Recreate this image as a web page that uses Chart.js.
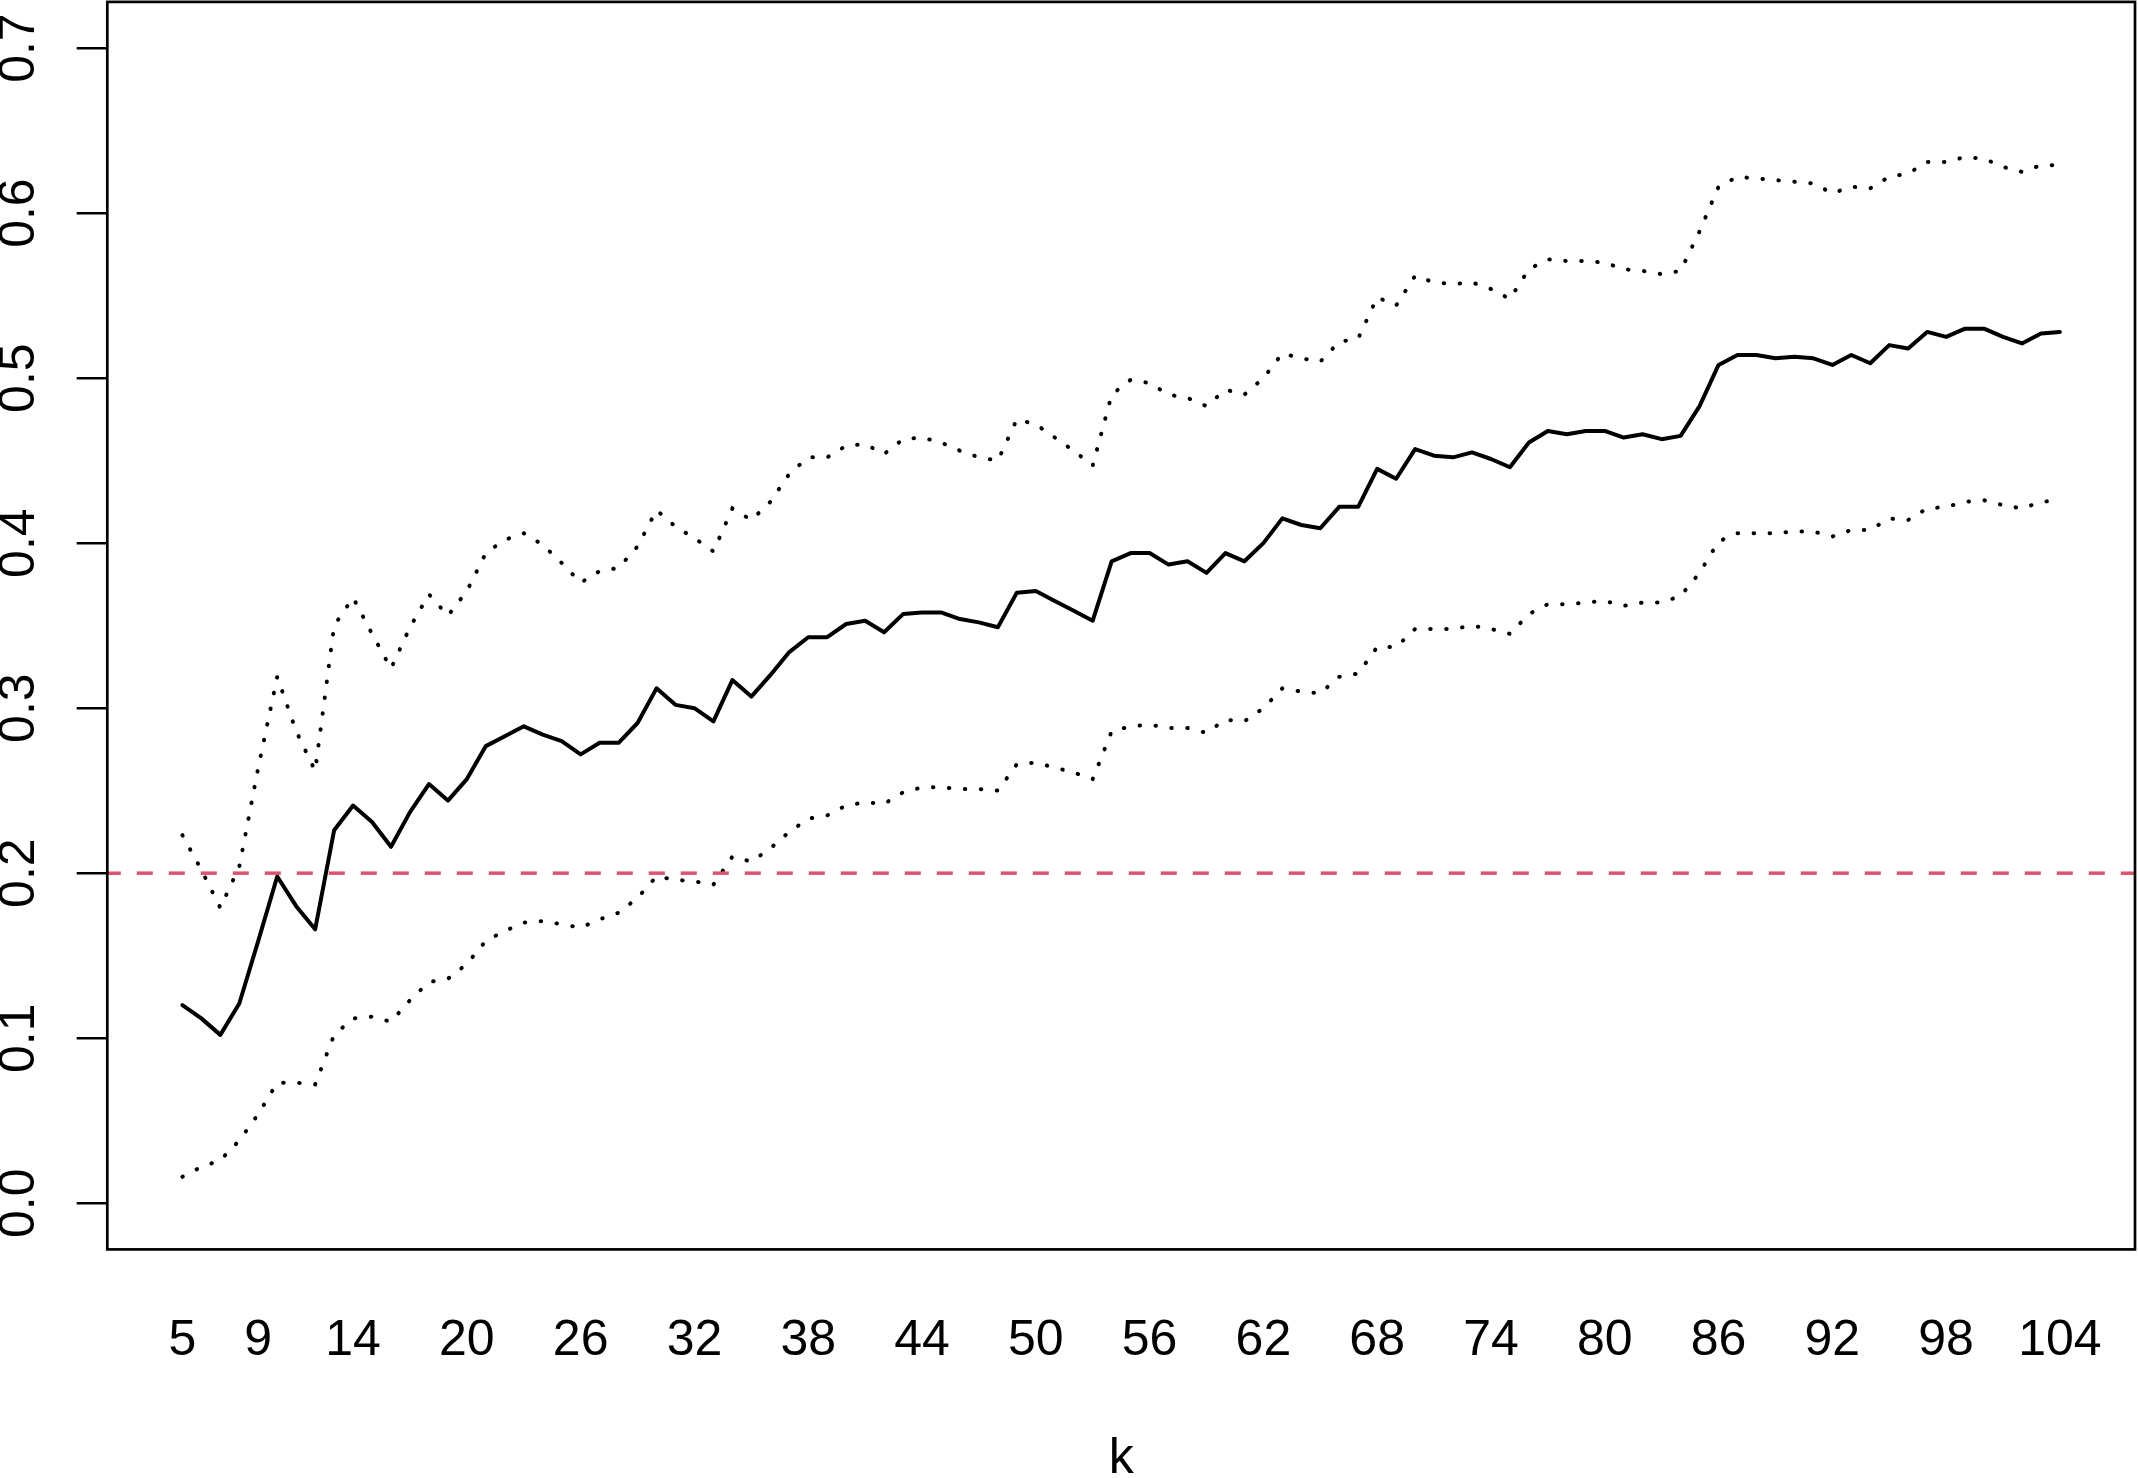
<!DOCTYPE html>
<html>
<head>
<meta charset="utf-8">
<script src="https://cdn.jsdelivr.net/npm/chart.js@4/dist/chart.umd.min.js"></script>
<style>
  html, body { margin: 0; padding: 0; background: #fff; }
  #wrap { width: 2138px; height: 1478px; }
</style>
</head>
<body>
<div id="wrap"><canvas id="chart" width="2138" height="1478"></canvas></div>
<script>
// k values on the x axis
const kValues = [
  5, 6, 7, 8, 9, 10, 11, 12, 13, 14, 15, 16, 17, 18, 19, 20, 21, 22, 23, 24,
  25, 26, 27, 28, 29, 30, 31, 32, 33, 34, 35, 36, 37, 38, 39, 40, 41, 42, 43, 44,
  45, 46, 47, 48, 49, 50, 51, 52, 53, 54, 55, 56, 57, 58, 59, 60, 61, 62, 63, 64,
  65, 66, 67, 68, 69, 70, 71, 72, 73, 74, 75, 76, 77, 78, 79, 80, 81, 82, 83, 84,
  85, 86, 87, 88, 89, 90, 91, 92, 93, 94, 95, 96, 97, 98, 99, 100, 101, 102, 103, 104
];

// solid line (estimate)
const estimate = [
  0.120, 0.112, 0.102, 0.121, 0.159, 0.198, 0.180, 0.166, 0.226, 0.241,
  0.231, 0.216, 0.237, 0.254, 0.244, 0.257, 0.277, 0.283, 0.289, 0.284,
  0.280, 0.272, 0.279, 0.279, 0.291, 0.312, 0.302, 0.300, 0.292, 0.317,
  0.307, 0.320, 0.334, 0.343, 0.343, 0.351, 0.353, 0.346, 0.357, 0.358,
  0.358, 0.354, 0.352, 0.349, 0.370, 0.371, 0.365, 0.359, 0.353, 0.389,
  0.394, 0.394, 0.387, 0.389, 0.382, 0.394, 0.389, 0.400, 0.415, 0.411,
  0.409, 0.422, 0.422, 0.445, 0.439, 0.457, 0.453, 0.452, 0.455, 0.451,
  0.446, 0.461, 0.468, 0.466, 0.468, 0.468, 0.464, 0.466, 0.463, 0.465,
  0.483, 0.508, 0.514, 0.514, 0.512, 0.513, 0.512, 0.508, 0.514, 0.509,
  0.520, 0.518, 0.528, 0.525, 0.530, 0.530, 0.525, 0.521, 0.527, 0.528
];

// upper dotted band
const upperBand = [
  0.223, 0.202, 0.179, 0.204, 0.264, 0.319, 0.286, 0.262, 0.350, 0.367,
  0.345, 0.324, 0.349, 0.369, 0.356, 0.371, 0.394, 0.402, 0.406, 0.399,
  0.388, 0.376, 0.383, 0.385, 0.398, 0.420, 0.410, 0.403, 0.395, 0.421,
  0.414, 0.425, 0.442, 0.452, 0.452, 0.459, 0.460, 0.454, 0.463, 0.464,
  0.461, 0.456, 0.452, 0.450, 0.475, 0.472, 0.464, 0.456, 0.447, 0.490,
  0.499, 0.497, 0.490, 0.488, 0.483, 0.493, 0.490, 0.500, 0.515, 0.512,
  0.510, 0.522, 0.524, 0.549, 0.544, 0.562, 0.558, 0.557, 0.558, 0.554,
  0.548, 0.566, 0.572, 0.571, 0.571, 0.570, 0.566, 0.565, 0.563, 0.565,
  0.589, 0.616, 0.622, 0.621, 0.620, 0.619, 0.618, 0.612, 0.616, 0.615,
  0.622, 0.624, 0.631, 0.631, 0.634, 0.633, 0.628, 0.625, 0.629, 0.629
];

// lower dotted band
const lowerBand = [
  0.016, 0.022, 0.026, 0.038, 0.054, 0.073, 0.073, 0.072, 0.102, 0.112,
  0.113, 0.110, 0.123, 0.134, 0.136, 0.145, 0.159, 0.165, 0.170, 0.171,
  0.169, 0.167, 0.172, 0.176, 0.185, 0.198, 0.196, 0.195, 0.193, 0.210,
  0.207, 0.215, 0.225, 0.233, 0.235, 0.241, 0.243, 0.242, 0.249, 0.252,
  0.252, 0.251, 0.251, 0.250, 0.266, 0.267, 0.264, 0.261, 0.257, 0.286,
  0.289, 0.290, 0.288, 0.288, 0.285, 0.293, 0.292, 0.300, 0.312, 0.310,
  0.309, 0.319, 0.321, 0.337, 0.337, 0.348, 0.348, 0.348, 0.350, 0.348,
  0.345, 0.357, 0.363, 0.363, 0.364, 0.365, 0.362, 0.364, 0.364, 0.368,
  0.382, 0.401, 0.406, 0.406, 0.406, 0.407, 0.407, 0.404, 0.408, 0.408,
  0.415, 0.414, 0.421, 0.422, 0.425, 0.426, 0.423, 0.421, 0.425, 0.426
];

const cutoff = 0.2;
const xTicks = [5, 9, 14, 20, 26, 32, 38, 44, 50, 56, 62, 68, 74, 80, 86, 92, 98, 104];
const yTicks = [0, 0.1, 0.2, 0.3, 0.4, 0.5, 0.6, 0.7];
const xRange = [1.04, 107.96];
const yRange = [-0.028, 0.728];

const pairs = vals => kValues.map((k, i) => ({ x: k, y: vals[i] }));
const FONT = 'Liberation Sans, Arial, Helvetica, sans-serif';

// R style box round the plot region
const boxPlugin = {
    id: 'box',
    afterDraw(chart) {
        const { ctx, chartArea: a } = chart;
        ctx.save();
        ctx.strokeStyle = '#000';
        ctx.lineWidth = 2.7;
        ctx.strokeRect(a.left, a.top, a.right - a.left, a.bottom - a.top);
        ctx.restore();
    }
};

new Chart(document.getElementById('chart'), {
    type: 'line',
    data: {
        datasets: [
            {
                data: [{ x: xRange[0], y: cutoff }, { x: xRange[1], y: cutoff }],
                borderColor: '#DF536B',
                borderWidth: 3.5,
                borderDash: [16, 16],
                borderDashOffset: 2.5,
                borderCapStyle: 'butt'
            },
            {
                data: pairs(upperBand),
                borderColor: '#000',
                borderWidth: 4,
                borderDash: [0.5, 15.5],
                borderCapStyle: 'round'
            },
            {
                data: pairs(lowerBand),
                borderColor: '#000',
                borderWidth: 4,
                borderDash: [0.5, 15.5],
                borderCapStyle: 'round'
            },
            {
                data: pairs(estimate),
                borderColor: '#000',
                borderWidth: 4,
                borderCapStyle: 'round',
                borderJoinStyle: 'round'
            }
        ]
    },
    options: {
        responsive: false,
        animation: false,
        devicePixelRatio: 1,
        layout: { padding: { top: 1.9, right: 3, left: 0, bottom: 0 } },
        plugins: { legend: { display: false }, tooltip: { enabled: false } },
        elements: { point: { radius: 0 }, line: { tension: 0 } },
        scales: {
            x: {
                type: 'linear',
                min: xRange[0],
                max: xRange[1],
                afterBuildTicks: s => { s.ticks = xTicks.map(v => ({ value: v })); },
                afterFit: s => {
                    s.height = 228.6;
                    s.paddingLeft = 0;
                    s.paddingRight = 0;
                },
                grid: { display: false, drawTicks: false, tickLength: 0 },
                border: { display: false },
                ticks: {
                    autoSkip: false, minRotation: 0, maxRotation: 0, padding: 62,
                    color: '#000', font: { family: FONT, size: 50 },
                    callback: v => String(v)
                },
                title: {
                    display: true, text: 'k', color: '#000', padding: 0,
                    font: { family: FONT, size: 50, lineHeight: 0.75 }
                }
            },
            y: {
                type: 'linear',
                min: yRange[0],
                max: yRange[1],
                afterBuildTicks: s => { s.ticks = yTicks.map(v => ({ value: v })); },
                afterFit: s => {
                    s.width = 107.3;
                    s.paddingTop = 0;
                    s.paddingBottom = 0;
                },
                grid: { drawOnChartArea: false, drawTicks: true, tickLength: 30.6, color: '#000', lineWidth: 2.5 },
                border: { display: false },
                ticks: {
                    autoSkip: false, minRotation: 90, maxRotation: 90, crossAlign: 'center', padding: 22,
                    color: '#000', font: { family: FONT, size: 50 },
                    callback: v => v.toFixed(1)
                }
            }
        }
    },
    plugins: [boxPlugin]
});
</script>
</body>
</html>
